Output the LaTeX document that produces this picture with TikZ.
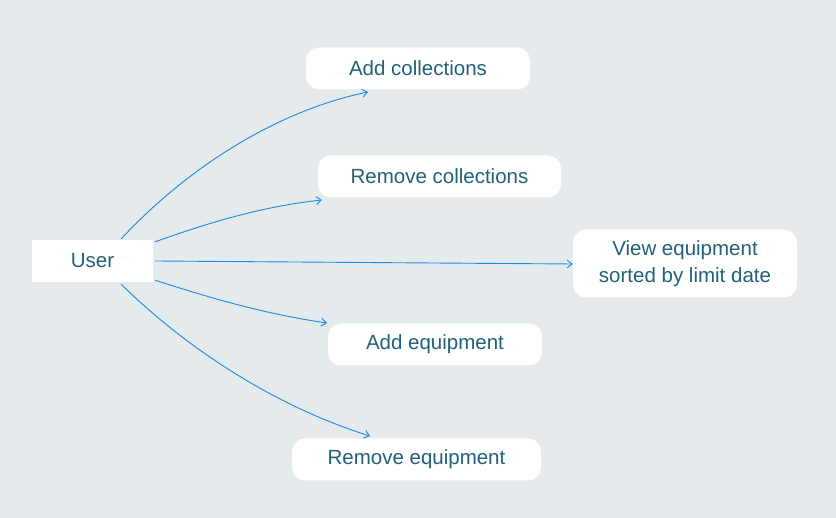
\documentclass[tikz,border=0pt]{standalone}
\usepackage{fontspec}
\setmainfont{Liberation Sans}
\usetikzlibrary{arrows.meta,calc}
\definecolor{bg}{HTML}{E5EAED}
\definecolor{txt}{HTML}{22617A}
\definecolor{arr}{HTML}{1E88E5}
\tikzset{
  usecase/.style={fill=white, rounded corners=13pt, text=txt, font=\fontsize{20.5}{27}\selectfont, align=center, inner sep=0pt},
  actor/.style={fill=white, text=txt, font=\fontsize{20.5}{27}\selectfont, inner sep=0pt},
  link/.style={draw=arr, line width=0.9pt, -{Straight Barb[length=5pt,width=8pt]}}
}
\begin{document}
\begin{tikzpicture}[x=1pt,y=-1pt]
\fill[bg] (0,0) rectangle (836,518);
\useasboundingbox (0,0) rectangle (836,518);
\node[actor, minimum width=121pt, minimum height=42pt] (user) at (92.5,261) {User};
\node[usecase, minimum width=224pt, minimum height=42pt] (ac) at (418,68.5) {Add collections};
\node[usecase, minimum width=243pt, minimum height=42pt] (rc) at (439.5,176.5) {Remove collections};
\node[usecase, minimum width=224pt, minimum height=68pt] (ve) at (685,263.5) {View equipment\\sorted by limit date};
\node[usecase, minimum width=214pt, minimum height=42pt] (ae) at (435,344.5) {Add equipment};
\node[usecase, minimum width=249pt, minimum height=42pt] (re) at (416.5,459.5) {Remove equipment};
\coordinate (t1) at (368,92);
\coordinate (t2) at (322,200);
\coordinate (t4) at (327,323);
\coordinate (t5) at (370,436);
\draw[link] ($(user.north east)+(-32,-1)$) .. controls (190,165) and (280,110) .. (t1);
\draw[link] ($(user.north east)+(2,2)$) .. controls (210,222) and (265,206) .. (t2);
\draw[link] ($(user.east)+(2,0)$) -- ($(ve.west)+(0,0.5)$);
\draw[link] ($(user.south east)+(2,-2)$) .. controls (210,298) and (265,314) .. (t4);
\draw[link] ($(user.south east)+(-32,2)$) .. controls (190,352) and (280,408) .. (t5);
\end{tikzpicture}
\end{document}
